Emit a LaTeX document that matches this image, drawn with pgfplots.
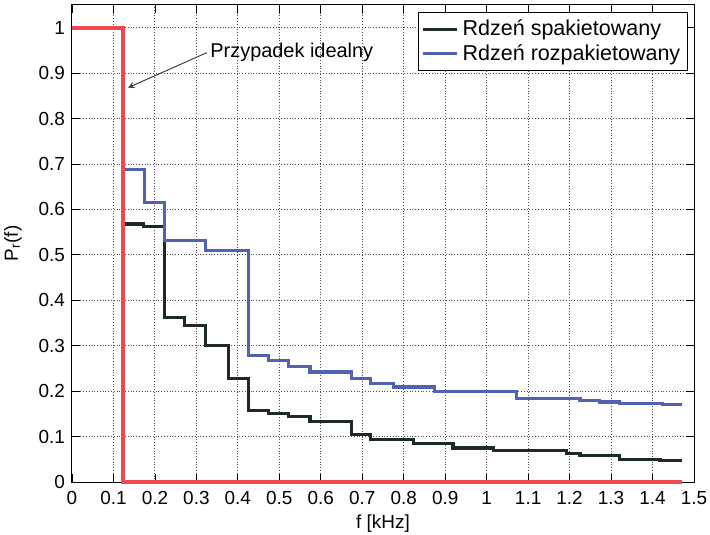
\documentclass[border=0pt]{standalone}
\usepackage{pgfplots}
\pgfplotsset{compat=1.18}
\usepackage{fontspec}
\setmainfont{Liberation Sans}
\usetikzlibrary{calc}
\definecolor{cred}{RGB}{240,72,78}
\definecolor{cblack}{RGB}{30,42,36}
\definecolor{cblue}{RGB}{82,98,178}
\definecolor{cgrid}{RGB}{90,70,90}
\begin{document}
\begin{tikzpicture}
\begin{axis}[
  scale only axis,
  width=311bp, height=238.5bp,
  xmin=0, xmax=1.5, ymin=0, ymax=1.05,
  xtick={0,0.1,...,1.5}, ytick={0,0.1,...,1.0},
  xticklabels={0,0.1,0.2,0.3,0.4,0.5,0.6,0.7,0.8,0.9,1,1.1,1.2,1.3,1.4,1.5},
  yticklabels={0,0.1,0.2,0.3,0.4,0.5,0.6,0.7,0.8,0.9,1},
  tick align=inside,
  tick style={black, thin},
  major tick length=4bp,
  grid=major,
  major grid style={densely dotted, cgrid, line width=0.5pt},
  axis line style={black, line width=0.5pt},
  font=\fontsize{9.5}{11}\selectfont,
  /pgf/number format/assume math mode=true,
  xticklabel style={yshift=-1bp},
  xlabel={f [kHz]},
  ylabel={P\textsubscript{r}(f)},
  xlabel style={at={(axis description cs:0.5,0)}, anchor=north, yshift=-13bp},
  ylabel style={at={(axis description cs:-0.08,0.5)}, anchor=south, inner sep=0pt},
  clip=false,
  legend style={at={(0.99,0.985)}, anchor=north east, draw=black, fill=white,
    line width=0.5pt, font=\fontsize{10.8}{12.5}\selectfont,
    inner sep=1.5pt, row sep=-1pt, cells={anchor=west}},
  legend image post style={line width=1.5pt},
  legend cell align=left,
]
\addplot[const plot mark left, cblack, line width=1.6pt] coordinates {
(0.12,0.568) (0.172,0.563) (0.224,0.363) (0.272,0.344) (0.321,0.300)
(0.377,0.228) (0.425,0.157) (0.473,0.151) (0.522,0.144) (0.574,0.133)
(0.674,0.104) (0.72,0.093) (0.823,0.084) (0.919,0.075) (1.016,0.069)
(1.193,0.062) (1.225,0.058) (1.32,0.049) (1.418,0.047) (1.47,0.047)
};
\addlegendentry{Rdzeń spakietowany}
\addplot[const plot mark left, cblue, line width=1.6pt] coordinates {
(0.12,0.688) (0.174,0.616) (0.224,0.532) (0.321,0.509) (0.425,0.278)
(0.473,0.267) (0.522,0.255) (0.574,0.242) (0.674,0.228) (0.72,0.216)
(0.775,0.209) (0.875,0.199) (1.072,0.183) (1.225,0.179) (1.273,0.176)
(1.32,0.173) (1.425,0.171) (1.47,0.171)
};
\addlegendentry{Rdzeń rozpakietowany}
\addplot[sharp plot, cred, line width=2.2pt, forget plot] coordinates {
(0,1) (0.123,1) (0.123,0) (1.47,0)
};
\draw[->, >=stealth, black!75, line width=0.5pt] (axis cs:0.325,0.945) -- (axis cs:0.135,0.868);
\node[anchor=west, inner sep=1pt, font=\fontsize{10}{11.5}\selectfont] at (axis cs:0.328,0.945) {Przypadek idealny};
\end{axis}
\pgfresetboundingbox
\path[use as bounding box] ($(current axis.south west)+(-36bp,-26.5bp)$) rectangle ($(current axis.north east)+(8bp,2.5bp)$);
\end{tikzpicture}
\end{document}
